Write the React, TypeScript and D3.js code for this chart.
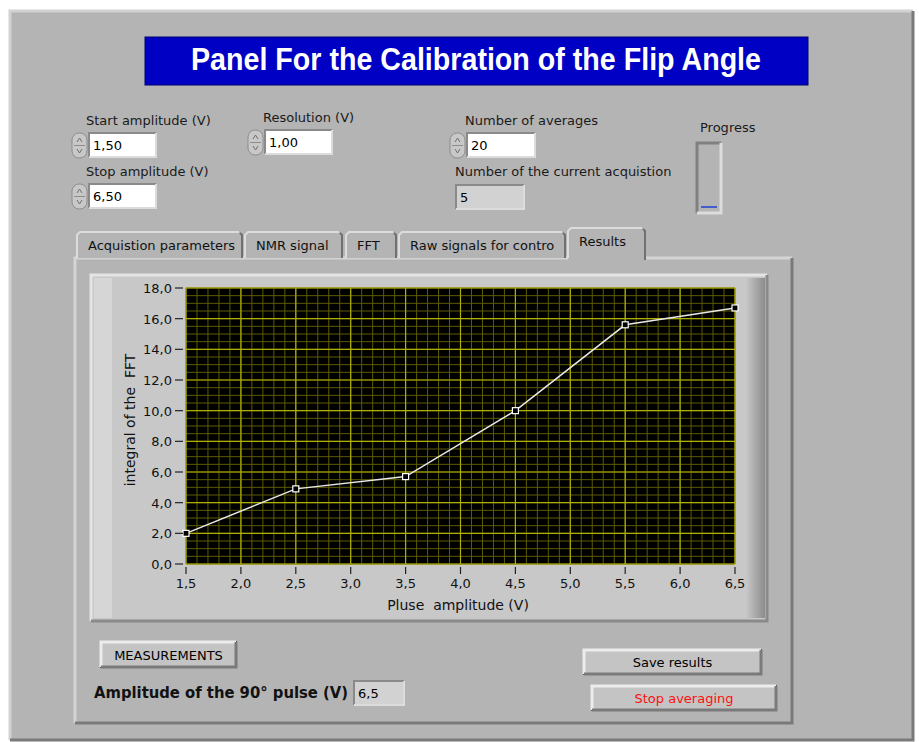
import * as d3 from "d3";
import React from "react";

// pulse amplitude (V) vs integral of the FFT
const amplitudes = [1.5, 2.5, 3.5, 4.5, 5.5, 6.5];
const integrals = [2.0, 4.9, 5.7, 10.0, 15.6, 16.7];

const xTicks = [1.5, 2.0, 2.5, 3.0, 3.5, 4.0, 4.5, 5.0, 5.5, 6.0, 6.5];
const yTicks = [0, 2, 4, 6, 8, 10, 12, 14, 16, 18];

const tabNames = ["Acquistion parameters", "NMR signal", "FFT", "Raw signals for contro", "Results"];

const FONT = "'DejaVu Sans', Verdana, sans-serif";
const BG = "#b4b4b4";

const comma = (v: number, d: number) => v.toFixed(d).replace(".", ",");

// raised / sunken box in the LabVIEW look
const Bevel = ({ x, y, w, h, fill = BG, sunken = false, light = "#e6e6e6", dark = "#6e6e6e", t = 2 }: any) => {
  const tl = sunken ? dark : light;
  const br = sunken ? light : dark;
  return (
    <g>
      <rect x={x} y={y} width={w} height={h} fill={fill} />
      <path d={`M${x},${y + h} V${y} H${x + w}`} stroke={tl} strokeWidth={t} fill="none" />
      <path d={`M${x + w},${y} V${y + h} H${x}`} stroke={br} strokeWidth={t} fill="none" />
    </g>
  );
};

const Spinner = ({ x, y }: any) => (
  <g>
    <rect x={x} y={y} width={15} height={25} rx={7} fill="#c8c8c8" stroke="#8c8c8c" />
    <line x1={x + 2} y1={y + 12.5} x2={x + 13} y2={y + 12.5} stroke="#8c8c8c" />
    <path d={`M${x + 5},${y + 9} L${x + 7.5},${y + 5} L${x + 10},${y + 9}`} fill="none" stroke="#707070" />
    <path d={`M${x + 5},${y + 16} L${x + 7.5},${y + 20} L${x + 10},${y + 16}`} fill="none" stroke="#707070" />
  </g>
);

const NumBox = ({ x, y, w, value, fill = "#ffffff" }: any) => (
  <g>
    <Bevel x={x} y={y} w={w} h={24} fill={fill} sunken light="#dcdcdc" dark="#8a8a8a" />
    <text x={x + 4} y={y + 17} fontSize={13} fontFamily={FONT} fill="#000">{value}</text>
  </g>
);

const Label = ({ x, y, text, anchor = "start" }: any) => (
  <text x={x} y={y} fontSize={13} fontFamily={FONT} fill="#1a1a1a" textAnchor={anchor}>{text}</text>
);

const Button = ({ x, y, w, h, text, color = "#000" }: any) => (
  <g>
    <rect x={x - 1} y={y - 1} width={w + 2} height={h + 2} fill="#555" />
    <Bevel x={x} y={y} w={w} h={h} fill="#c4c4c4" light="#ececec" dark="#7a7a7a" t={3} />
    <text x={x + w / 2} y={y + h / 2 + 5} fontSize={13} fontFamily={FONT} fill={color} textAnchor="middle">{text}</text>
  </g>
);

export default function App() {
  const plot = { left: 186, right: 735, top: 288, bottom: 564 };
  const x = d3.scaleLinear().domain([1.5, 6.5]).range([plot.left, plot.right]);
  const y = d3.scaleLinear().domain([0, 18]).range([plot.bottom, plot.top]);

  const minorX = d3.range(15, 66).map((v) => v / 10);
  const minorY = d3.range(0, 37).map((v) => v / 2);

  const line = d3
    .line<number>()
    .x((_, i) => x(amplitudes[i]))
    .y((d) => y(d));

  // tab geometry
  const tabX = [77, 245, 346, 399, 568];
  const tabW = [165, 97, 50, 166, 77];

  return (
    <svg width={919} height={742} style={{ position: "absolute", left: 0, top: 0 }}>
      <defs>
        {tabNames.map((n, i) => (
          <clipPath id={"tabclip" + i} key={n}>
            <rect x={tabX[i] + 2} y={220} width={tabW[i] - 9} height={40} />
          </clipPath>
        ))}
        <linearGradient id="frameRight" x1="0" x2="1">
          <stop offset="0" stopColor="#c8c8c8" />
          <stop offset="1" stopColor="#8c8c8c" />
        </linearGradient>
      </defs>
      <rect width={919} height={742} fill="#ffffff" />
      {/* main panel */}
      <Bevel x={10} y={11} w={903} h={729} fill={BG} light="#d2d2d2" dark="#7a7a7a" t={3} />

      {/* title */}
      <rect x={145} y={37} width={663} height={48} fill="#0000c4" stroke="#000070" />
      <text x={476} y={70} fontSize={31} fontWeight="bold" fontFamily="'Liberation Sans Narrow', 'Liberation Sans', Arial, sans-serif"
        fill="#ffffff" textAnchor="middle" textLength={570} lengthAdjust="spacingAndGlyphs">
        Panel For the Calibration of the Flip Angle
      </text>

      {/* controls */}
      <Label x={86} y={125} text="Start amplitude (V)" />
      <Spinner x={72} y={133} />
      <NumBox x={89} y={133} w={67} value="1,50" />
      <Label x={86} y={176} text="Stop amplitude (V)" />
      <Spinner x={72} y={184} />
      <NumBox x={89} y={184} w={67} value="6,50" />

      <Label x={263} y={122} text="Resolution (V)" />
      <Spinner x={248} y={130} />
      <NumBox x={265} y={130} w={67} value="1,00" />

      <Label x={465} y={125} text="Number of averages" />
      <Spinner x={450} y={133} />
      <NumBox x={467} y={133} w={68} value="20" />
      <Label x={455} y={176} text="Number of the current acquistion" />
      <NumBox x={456} y={185} w={68} value="5" fill="#d2d2d2" />

      <Label x={700} y={132} text="Progress" />
      <Bevel x={697} y={143} w={24} h={70} fill={BG} sunken light="#dcdcdc" dark="#808080" t={3} />
      <line x1={701} y1={207} x2={717} y2={207} stroke="#2040d0" strokeWidth={1.5} />

      {/* tab control */}
      <Bevel x={75} y={258} w={717} h={465} fill={BG} light="#d4d4d4" dark="#7a7a7a" t={3} />
      {tabNames.map((name, i) => {
        const sel = i === tabNames.length - 1;
        const top = sel ? 228 : 232;
        return (
          <g key={name}>
            <path d={`M${tabX[i]},${sel ? 260 : 258} V${top + 3} L${tabX[i] + 3},${top} H${tabX[i] + tabW[i] - 3} L${tabX[i] + tabW[i]},${top + 3} V${sel ? 260 : 258}`}
              fill={BG} stroke="none" />
            <path d={`M${tabX[i]},${258} V${top + 3} L${tabX[i] + 3},${top} H${tabX[i] + tabW[i] - 3}`} stroke="#dcdcdc" strokeWidth={2} fill="none" />
            <path d={`M${tabX[i] + tabW[i] - 2},${top + 1} L${tabX[i] + tabW[i]},${top + 3} V${sel ? 260 : 258}`} stroke="#707070" strokeWidth={2} fill="none" />
            <text x={tabX[i] + 11} y={top + 18} fontSize={13} fontFamily={FONT} fill="#111" clipPath={`url(#tabclip${i})`}>
              {name}
            </text>
          </g>
        );
      })}

      {/* graph frame */}
      <Bevel x={91} y={275} w={676} h={346} fill="#c8c8c8" light="#e4e4e4" dark="#8a8a8a" t={3} />
      <rect x={94} y={278} width={18} height={340} fill="#d6d6d6" />
      <rect x={746} y={278} width={19} height={340} fill="url(#frameRight)" />

      {/* plot area */}
      <rect x={plot.left} y={plot.top} width={plot.right - plot.left} height={plot.bottom - plot.top} fill="#000" />
      {minorX.map((v) => (
        <line key={"mx" + v} x1={x(v)} x2={x(v)} y1={plot.top} y2={plot.bottom} stroke="#5c5c00" strokeWidth={1} />
      ))}
      {minorY.map((v) => (
        <line key={"my" + v} x1={plot.left} x2={plot.right} y1={y(v)} y2={y(v)} stroke="#5c5c00" strokeWidth={1} />
      ))}
      {xTicks.map((v) => (
        <line key={"gx" + v} x1={x(v)} x2={x(v)} y1={plot.top} y2={plot.bottom} stroke="#b0b000" strokeWidth={1.2} />
      ))}
      {yTicks.map((v) => (
        <line key={"gy" + v} x1={plot.left} x2={plot.right} y1={y(v)} y2={y(v)} stroke="#b0b000" strokeWidth={1.2} />
      ))}

      <path d={line(integrals) || ""} fill="none" stroke="#e8e8e8" strokeWidth={1.5} />
      {integrals.map((v, i) => (
        <rect key={"m" + i} x={x(amplitudes[i]) - 3} y={y(v) - 3} width={6} height={6} fill="#000" stroke="#ffffff" strokeWidth={1.2} />
      ))}

      {/* y axis */}
      {yTicks.map((v) => (
        <g key={"yt" + v}>
          <line x1={175} x2={183} y1={y(v)} y2={y(v)} stroke="#222" strokeWidth={1.2} />
          <text x={172} y={y(v) + 5} fontSize={13} fontFamily={FONT} textAnchor="end" fill="#111">{comma(v, 1)}</text>
        </g>
      ))}
      {/* x axis */}
      {xTicks.map((v) => (
        <g key={"xt" + v}>
          <line x1={x(v)} x2={x(v)} y1={567} y2={574} stroke="#222" strokeWidth={1.2} />
          <text x={x(v)} y={588} fontSize={13} fontFamily={FONT} textAnchor="middle" fill="#111">{comma(v, 1)}</text>
        </g>
      ))}
      <text transform={`translate(135,420) rotate(-90)`} fontSize={14} fontFamily={FONT} textAnchor="middle" fill="#111" xmlSpace="preserve">
        integral of the  FFT
      </text>
      <text x={458} y={610} fontSize={14} fontFamily={FONT} textAnchor="middle" fill="#111" xmlSpace="preserve">
        Pluse  amplitude (V)
      </text>

      {/* bottom controls */}
      <Button x={101} y={642} w={135} h={25} text="MEASUREMENTS" />
      <text x={94} y={698} fontSize={15} fontWeight="bold" fontFamily={FONT} fill="#111" textLength={254} lengthAdjust="spacingAndGlyphs">
        Amplitude of the 90° pulse (V)
      </text>
      <NumBox x={354} y={681} w={50} value="6,5" fill="#d2d2d2" />

      <Button x={584} y={650} w={177} h={24} text="Save results" />
      <Button x={592} y={686} w={184} h={24} text="Stop averaging" color="#ff1010" />
    </svg>
  );
}
